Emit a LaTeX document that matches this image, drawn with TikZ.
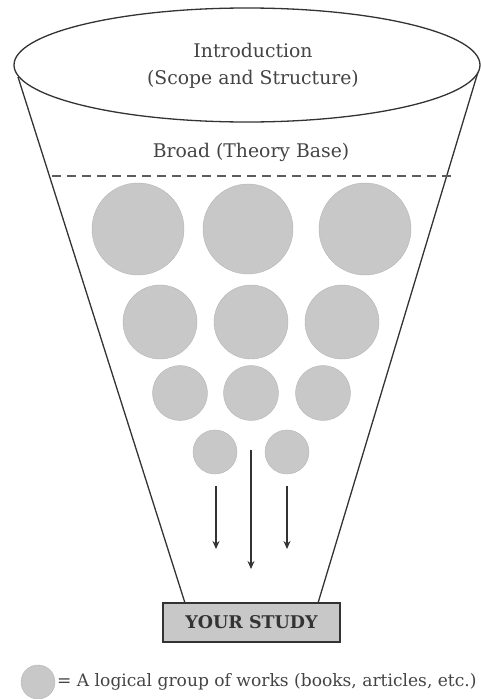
\documentclass[tikz,border=0pt]{standalone}
\usepackage{fontspec}
\setmainfont{DejaVu Serif}
\usetikzlibrary{arrows.meta,shapes.geometric}
\definecolor{ink}{HTML}{333333}
\definecolor{txt}{HTML}{444444}
\definecolor{blob}{HTML}{C8C8C8}
\tikzset{
  grp/.style={circle, fill=blob, draw=blob!90!black, line width=0.4pt, inner sep=0pt, minimum size=#1},
  flow/.style={draw=ink, line width=1.4pt, -{Stealth[length=8pt,width=7pt]}},
  edge/.style={draw=ink, line width=1.3pt},
  lbl/.style={text=txt, font=\fontsize{18.8}{27}\selectfont, align=center}
}
\begin{document}
\begin{tikzpicture}[x=1pt,y=-1pt]
\useasboundingbox (0,0) rectangle (481,699);
% funnel
\coordinate (lt) at (18,77);
\coordinate (rt) at (478,72);
\node[draw=ink, line width=1.3pt, fill=blob, minimum width=177pt, minimum height=39pt, inner sep=0pt,
      font=\bfseries\fontsize{17.5}{20}\selectfont, text=ink] (study) at (251.5,622.5) {YOUR STUDY};
\coordinate (lb) at (185,603);
\coordinate (rb) at (318,603);
\draw[edge] (lt) -- (lb);
\draw[edge] (rt) -- (rb);
\node[ellipse, draw=ink, line width=1.3pt, fill=white, minimum width=466pt, minimum height=114pt, inner sep=0pt] (top) at (247,65) {};
\node[lbl] (intro) at (253,65.5) {Introduction\\(Scope and Structure)};
\node[lbl] (broad) at (251,152) {Broad (Theory Base)};
\coordinate (dl) at (52,176);
\coordinate (dr) at (455,176);
\draw[draw=ink!80, line width=1.4pt, dash pattern=on 9pt off 6pt] (dl) -- (dr);
% circles
\node[grp=92pt] (a1) at (138,229) {};
\node[grp=90pt] (a2) at (248,229) {};
\node[grp=92pt] (a3) at (365,229) {};
\node[grp=74pt] (b1) at (160,322) {};
\node[grp=74pt] (b2) at (251,322) {};
\node[grp=74pt] (b3) at (342,322) {};
\node[grp=55pt] (c1) at (180,393) {};
\node[grp=55pt] (c2) at (251,393) {};
\node[grp=55pt] (c3) at (323,393) {};
\node[grp=44pt] (d1) at (215,452) {};
\node[grp=44pt] (d2) at (287,452) {};
% arrows
\coordinate (s1) at (216,486); \coordinate (e1) at (216,549);
\coordinate (s2) at (251,450); \coordinate (e2) at (251,569);
\coordinate (s3) at (287,486); \coordinate (e3) at (287,549);
\draw[flow] (s1) -- (e1);
\draw[flow] (s2) -- (e2);
\draw[flow] (s3) -- (e3);
% legend
\node[grp=34pt] (key) at (38,682) {};
\node[text=txt, anchor=west, font=\fontsize{17.1}{20}\selectfont, inner sep=0pt] (keytxt) at (57,682) {= A logical group of works (books, articles, etc.)};
\end{tikzpicture}
\end{document}
